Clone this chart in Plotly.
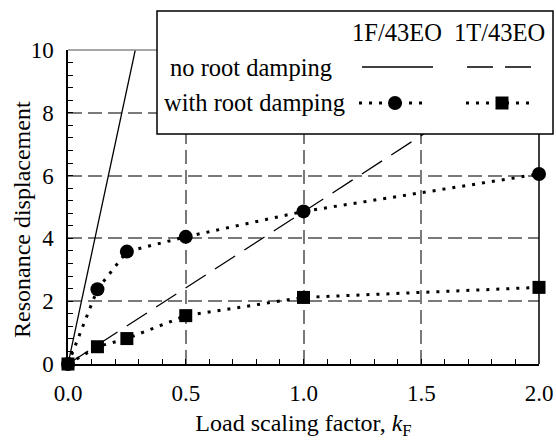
import plotly.graph_objects as go

# Data
load_factor = [0.0, 0.125, 0.25, 0.5, 1.0, 2.0]
f_damped = [0.0, 2.38, 3.58, 4.05, 4.86, 6.05]
t_damped = [0.0, 0.55, 0.81, 1.54, 2.12, 2.44]
nodamp_x = [0.0, 2.0]
f_nodamp = [0.0, 70.0]
t_nodamp = [0.0, 9.7]

x_ticks = [0.0, 0.5, 1.0, 1.5, 2.0]
x_ticktext = ["0.0", "0.5", "1.0", "1.5", "2.0"]
y_ticks = [0, 2, 4, 6, 8, 10]
y_ticktext = ["0", "2", "4", "6", "8", "10"]

FONT = "Liberation Serif"
L, R, T, B = 68, 17, 50, 76
W, H = 556, 440
PW, PH = W - L - R, H - T - B


def px(x):
    return (x - L) / PW


def py(y):
    return (H - B - y) / PH


fig = go.Figure()
fig.add_trace(go.Scatter(x=nodamp_x, y=f_nodamp, mode="lines",
                         line=dict(color="black", width=1.3), showlegend=False))
fig.add_trace(go.Scatter(x=nodamp_x, y=t_nodamp, mode="lines",
                         line=dict(color="black", width=1.3, dash="24px,11px"), showlegend=False))
fig.add_trace(go.Scatter(x=load_factor, y=f_damped, mode="lines+markers",
                         line=dict(color="black", width=3, dash="3px,7px"),
                         marker=dict(symbol="circle", size=14, color="black"),
                         cliponaxis=False, showlegend=False))
fig.add_trace(go.Scatter(x=load_factor, y=t_damped, mode="lines+markers",
                         line=dict(color="black", width=3, dash="3px,7px"),
                         marker=dict(symbol="square", size=13, color="black"),
                         cliponaxis=False, showlegend=False))

shapes = []
# top border (gray) and right border (black)
shapes.append(dict(type="line", xref="paper", yref="paper", x0=0, x1=1, y0=1, y1=1,
                   line=dict(color="#8a8a8a", width=1.5), layer="above"))
shapes.append(dict(type="line", xref="paper", yref="paper", x0=1, x1=1, y0=0, y1=1,
                   line=dict(color="black", width=1.5), layer="above"))
# legend box
shapes.append(dict(type="rect", xref="paper", yref="paper",
                   x0=px(157), x1=px(553), y0=py(134), y1=py(11),
                   fillcolor="white", line=dict(color="black", width=1.5), layer="above"))
# legend samples
shapes.append(dict(type="line", xref="paper", yref="paper", x0=px(362), x1=px(433),
                   y0=py(67), y1=py(67), line=dict(color="black", width=1.3), layer="above"))
shapes.append(dict(type="line", xref="paper", yref="paper", x0=px(467), x1=px(534),
                   y0=py(67), y1=py(67), line=dict(color="black", width=1.3, dash="26px,12px"),
                   layer="above"))
shapes.append(dict(type="line", xref="paper", yref="paper", x0=px(359), x1=px(428),
                   y0=py(103), y1=py(103), line=dict(color="black", width=3, dash="3px,7px"),
                   layer="above"))
shapes.append(dict(type="line", xref="paper", yref="paper", x0=px(466), x1=px(536),
                   y0=py(103), y1=py(103), line=dict(color="black", width=3, dash="3px,7px"),
                   layer="above"))
shapes.append(dict(type="circle", xref="paper", yref="paper", xsizemode="pixel", ysizemode="pixel",
                   xanchor=px(395), yanchor=py(103), x0=-7, x1=7, y0=-7, y1=7,
                   fillcolor="black", line=dict(color="black", width=0), layer="above"))
shapes.append(dict(type="rect", xref="paper", yref="paper", xsizemode="pixel", ysizemode="pixel",
                   xanchor=px(502), yanchor=py(103), x0=-6.5, x1=6.5, y0=-6.5, y1=6.5,
                   fillcolor="black", line=dict(color="black", width=0), layer="above"))

annotations = []
tf = dict(family=FONT, size=24.5, color="black")
annotations.append(dict(xref="paper", yref="paper", x=px(397), y=py(33), text="1F/43EO",
                        showarrow=False, xanchor="center", yanchor="middle", font=tf))
annotations.append(dict(xref="paper", yref="paper", x=px(499), y=py(33), text="1T/43EO",
                        showarrow=False, xanchor="center", yanchor="middle", font=tf))
annotations.append(dict(xref="paper", yref="paper", x=px(168), y=py(67), text="no root damping",
                        showarrow=False, xanchor="left", yanchor="middle", font=tf))
annotations.append(dict(xref="paper", yref="paper", x=px(162), y=py(103), text="with root damping",
                        showarrow=False, xanchor="left", yanchor="middle", font=tf))
# y-axis title
annotations.append(dict(xref="paper", yref="paper", x=px(22), y=py(220), text="Resonance displacement",
                        showarrow=False, xanchor="center", yanchor="middle", textangle=-90,
                        font=dict(family=FONT, size=24, color="black")))

fig.update_layout(
    width=W, height=H,
    margin=dict(l=L, r=R, t=T, b=B, pad=0, autoexpand=False),
    paper_bgcolor="white", plot_bgcolor="white",
    font=dict(family=FONT, size=23, color="black"),
    shapes=shapes, annotations=annotations,
    showlegend=False,
)
fig.update_xaxes(
    range=[0, 2], tickvals=x_ticks, ticktext=x_ticktext, automargin=False,
    showline=True, linecolor="black", linewidth=1.5,
    showgrid=True, gridcolor="#7a7a7a", gridwidth=1.5, griddash="14px,6px",
    zeroline=False, ticks="inside", ticklen=0, tickfont=dict(size=23),
    ticklabelstandoff=8,
    minor=dict(dtick=0.1, ticks="inside", ticklen=5, tickcolor="black", showgrid=False),
    title=dict(text="Load scaling factor, <i>k</i><sub>F</sub>", font=dict(size=24), standoff=12),
)
fig.update_yaxes(
    range=[0, 10], tickvals=y_ticks, ticktext=y_ticktext, automargin=False,
    showline=True, linecolor="black", linewidth=1.5,
    showgrid=True, gridcolor="#7a7a7a", gridwidth=1.5, griddash="14px,6px",
    zeroline=False, ticks="inside", ticklen=0, tickfont=dict(size=23),
    ticklabelstandoff=8,
    minor=dict(dtick=0.4, ticks="inside", ticklen=5, tickcolor="black", showgrid=False),
)

fig.write_html("out.html")
